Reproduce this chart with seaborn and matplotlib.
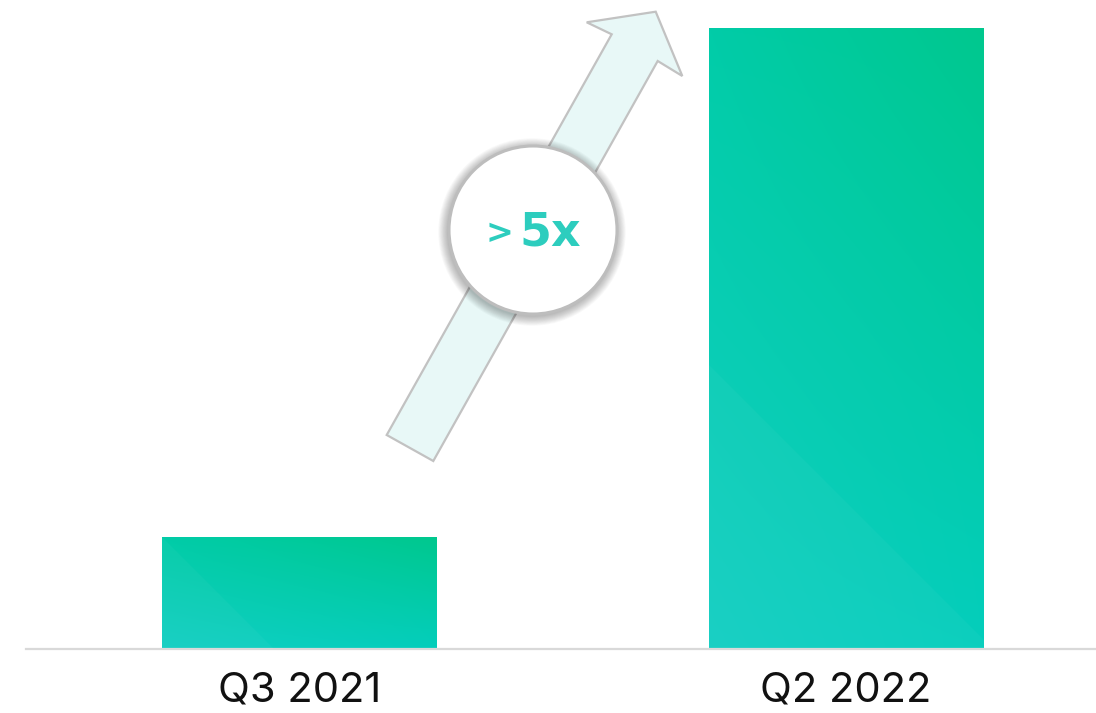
import numpy as np
import pandas as pd
import matplotlib
matplotlib.use("Agg")
import matplotlib.pyplot as plt
import seaborn as sns
from matplotlib.patches import Polygon, Circle
from matplotlib.colors import to_rgb

# ---- data ----
quarters = ["Q3 2021", "Q2 2022"]
values = [18, 100]
badge_text = "5x"
badge_prefix = ">"

sns.set_theme(style="white")
plt.rcParams['font.family'] = ['Inter', 'DejaVu Sans']

W, H = 1096, 713
fig = plt.figure(figsize=(W / 100, H / 100), dpi=100)
ax = fig.add_axes([26 / W, (H - 649) / H, 1 - 26 / W, 649 / H])

df = pd.DataFrame({"quarter": quarters, "value": values})
sns.barplot(data=df, x="quarter", y="value", width=0.503, color="#00CDAA",
            ax=ax, zorder=2)

ax.set_xlim(-0.5005, 1.4575)
ax.set_ylim(0, 104.5)
ax.set_xlabel("")
ax.set_ylabel("")
ax.set_yticks([])
for s in ["top", "left", "right"]:
    ax.spines[s].set_visible(False)
ax.spines["bottom"].set_color("#d9d9d9")
ax.spines["bottom"].set_linewidth(1.6)
ax.spines["bottom"].set_zorder(3)
ax.tick_params(axis="x", length=0, pad=16, labelsize=30, labelcolor="#111111")

# gradient fill per bar
TL, TR = np.array(to_rgb("#01CCA8")), np.array(to_rgb("#00C88E"))
BL, BR = np.array(to_rgb("#12CFC2")), np.array(to_rgb("#04CEBC"))
n = 200
u = np.linspace(0, 1, n)[None, :, None]
v = np.linspace(0, 1, n)[:, None, None]  # 0 top -> 1 bottom
grad = (1 - v) * ((1 - u) * TL + u * TR) + v * ((1 - u) * BL + u * BR)
for p in list(ax.patches):
    x0, y0 = p.get_x(), p.get_y()
    w, h = p.get_width(), p.get_height()
    img = ax.imshow(grad, extent=[x0, x0 + w, y0, y0 + h], aspect="auto",
                    origin="upper", zorder=2.1, interpolation="bilinear")
    img.set_clip_path(p)
    p.set_edgecolor("none")
ax.set_xlim(-0.5005, 1.4575)
ax.set_ylim(0, 104.5)

# overlay in pixel coordinates for the decorative arrow and badge
ov = fig.add_axes([0, 0, 1, 1], zorder=5)
ov.set_xlim(0, W)
ov.set_ylim(H, 0)
ov.axis("off")
ov.patch.set_alpha(0)

# faint light triangles at the bottom-left of each bar (pixel space)
for (bx0, bx1, btop) in [(162, 437, 537), (709, 983, 28)]:
    size = 284 if btop < 100 else 112
    tri = Polygon([(bx0, 649), (bx0, 649 - size), (bx0 + size, 649)],
                  closed=True, facecolor="white", alpha=0.035,
                  edgecolor="none", zorder=1)
    ov.add_patch(tri)

arrow_pts = [(386.7, 435), (433.3, 461), (657.7, 61), (682.3, 76),
             (655.7, 11.7), (586.7, 22.3), (611.7, 34.3)]
ov.add_patch(Polygon(arrow_pts, closed=True, facecolor="#E8F8F7",
                     edgecolor="#C2C2C2", linewidth=1.6, zorder=2))

cx, cy, r = 533, 230, 84
for i in range(12):
    ov.add_patch(Circle((cx - 1, cy + 2), r + 1 + i * 0.8, facecolor="#000000",
                        alpha=0.025, edgecolor="none", zorder=3))
ov.add_patch(Circle((cx, cy), r, facecolor="white", edgecolor="#BDBDBD",
                    linewidth=2.2, zorder=4))

ov.text(550, 233, badge_text, ha="center", va="center", fontsize=33,
        fontweight="bold", color="#2DCDBE", family=["DejaVu Sans"],
        zorder=5)
ov.text(499, 234, badge_prefix, ha="center", va="center", fontsize=24,
        fontweight="bold", color="#2DCDBE", family=["DejaVu Sans"],
        zorder=5)

fig.savefig("out.png", dpi=100)
